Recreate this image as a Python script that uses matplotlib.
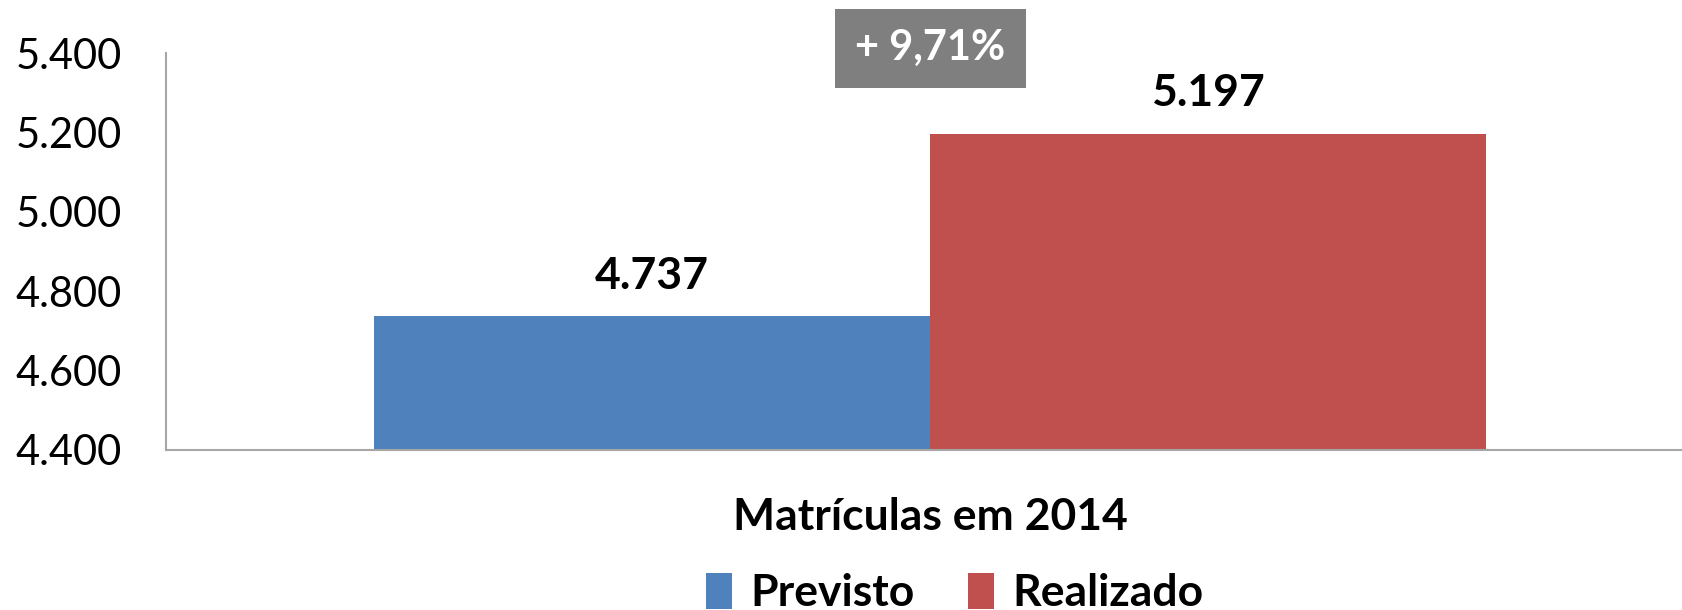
import matplotlib.pyplot as plt
from matplotlib.ticker import FuncFormatter

categories = ["Matrículas em 2014"]
series = ["Previsto", "Realizado"]
values = [4737, 5197]
colors = ["#4f81bd", "#c0504d"]
yticks = [4400, 4600, 4800, 5000, 5200, 5400]
change_label = "+ 9,71%"

plt.rcParams["font.family"] = ["Lato", "DejaVu Sans"]


def br(v, pos=None):
    return f"{v:,.0f}".replace(",", ".")


fig = plt.figure(figsize=(16.82, 6.10), dpi=100)
ax = fig.add_axes([0.0987, 0.2623, 0.9013, 0.6507])

width = 0.5
offsets = [-0.25, 0.25]
for name, v, c, off in zip(series, values, colors, offsets):
    ax.bar(off, v, width=width, color=c, label=name, zorder=2)
    ax.text(off, v + 52, br(v), ha="center", va="bottom",
            fontsize=32, fontweight="bold")

ax.set_ylim(4400, 5400)
ax.set_xlim(-0.687, 0.676)
ax.set_yticks(yticks)
ax.yaxis.set_major_formatter(FuncFormatter(br))
ax.set_xticks([0])
ax.set_xticklabels(categories, fontsize=32, fontweight="bold")
ax.tick_params(axis="y", length=0, labelsize=30, pad=32)
ax.tick_params(axis="x", length=0, pad=34)
for s in ["top", "right"]:
    ax.spines[s].set_visible(False)
for s in ["left", "bottom"]:
    ax.spines[s].set_color("#a6a6a6")
    ax.spines[s].set_linewidth(1.5)

ax.text(0.0, 5412, change_label, ha="center", va="center", color="white",
        fontsize=30, fontweight="bold", clip_on=False,
        bbox=dict(boxstyle="square,pad=0.49", fc="#7f7f7f", ec="none"))

leg = ax.legend(loc="center", bbox_to_anchor=(0.52, -0.36), ncol=2,
                frameon=False, prop={"size": 32, "weight": "bold"},
                handlelength=0.6, handleheight=0.9, handletextpad=0.4,
                columnspacing=1.2)

fig.savefig("out.png", dpi=100)
